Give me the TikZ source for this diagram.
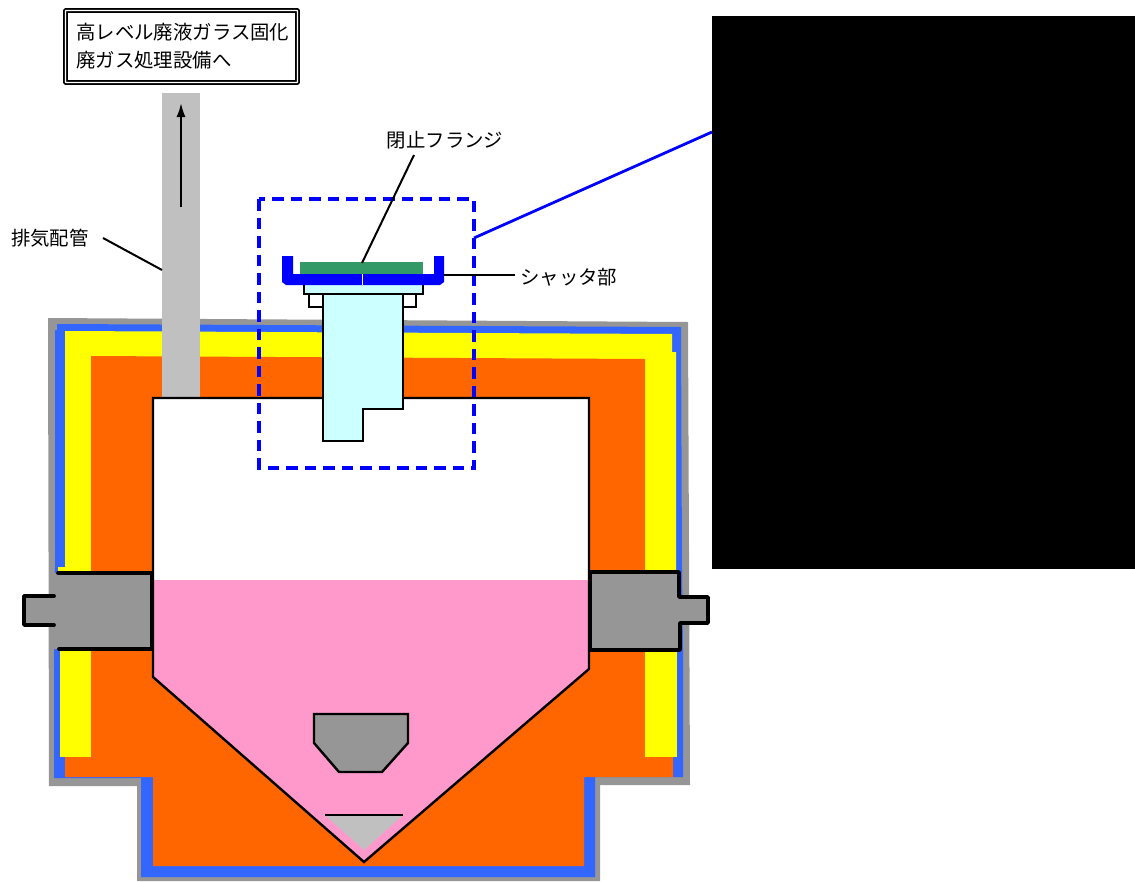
\documentclass[tikz,border=0pt]{standalone}
\usepackage{fontspec}
\setmainfont{Noto Sans CJK JP}
\usetikzlibrary{arrows.meta}
\definecolor{wallgray}{HTML}{969696}
\definecolor{wallblue}{HTML}{3366FF}
\definecolor{wallyellow}{HTML}{FFFF00}
\definecolor{wallorange}{HTML}{FF6600}
\definecolor{liquidpink}{HTML}{FF99CC}
\definecolor{pipegray}{HTML}{C0C0C0}
\definecolor{tubecyan}{HTML}{CCFFFF}
\definecolor{flangegreen}{HTML}{339966}
\definecolor{shutterblue}{HTML}{0000FF}
\tikzset{
  x=1pt,y=-1pt,
  lab/.style={inner sep=0pt,font=\fontsize{19.4}{28}\selectfont,text=black},
  solidpart/.style={draw=black,line width=2.4pt,line join=miter},
  heavy/.style={draw=black,line width=3.8pt,line join=round,line cap=round},
  leader/.style={draw=black,line width=2pt},
  bluecall/.style={draw=shutterblue,line width=2.8pt},
}
\begin{document}
\begin{tikzpicture}
\useasboundingbox (0,0) rectangle (1135,881);
% wall layers
\fill[wallgray] (48,318) -- (688,322) -- (690,785) -- (600,785) -- (600,881) -- (137,881) -- (137,786) -- (49,786) -- cycle;
\fill[wallblue] (57,324) -- (681,327) -- (682,570) -- (683,650) -- (683,777) -- (595,777) -- (595,877) -- (141,877) -- (141,778) -- (54,778) -- (54,651) -- (55,567) -- (55,330) -- (57,330) -- cycle;
\fill[wallyellow] (65,331) -- (672,334) -- (672,352) -- (676,352) -- (676,571) -- (65,571) -- cycle;
\fill[wallyellow] (58,567) rectangle (65,571);
\fill[wallorange] (91,356) -- (645,359) -- (645,571) -- (91,571) -- cycle;
\fill[wallorange] (65,651) -- (673,651) -- (673,777) -- (584,777) -- (584,866) -- (153,866) -- (153,777) -- (65,777) -- cycle;
\fill[wallyellow] (60,651) rectangle (91,757);
\fill[wallyellow] (645,651) rectangle (677,757);
% pipe
\fill[pipegray] (162,93) rectangle (200,399);
% vessel
\fill[white] (153,398) rectangle (589,581);
\fill[liquidpink] (153,580) -- (589,580) -- (589,669) -- (364,862) -- (153,677) -- cycle;
\draw[solidpart] (153,677) -- (153,398) -- (589,398) -- (589,669) -- (364,862) -- cycle;
% side ports
\fill[wallgray] (49,573) -- (152,573) -- (152,649) -- (49,649) -- (49,625) -- (24,625) -- (24,596) -- (49,596) -- cycle;
\draw[heavy] (58,573) -- (152,573) -- (152,649) -- (59,649);
\draw[heavy] (54,596) -- (24,596) -- (24,625) -- (54,625);
\fill[wallgray] (590,572) -- (679,572) -- (679,597) -- (708,597) -- (708,623) -- (679,623) -- (679,650) -- (590,650) -- cycle;
\draw[heavy] (590,572) -- (679,572) -- (679,597) -- (708,597) -- (708,623) -- (680,623) -- (680,650) -- (590,650) -- cycle;
% bottom internals
\draw[solidpart,fill=wallgray] (314,714) -- (408,714) -- (408,743) -- (382,772) -- (339,772) -- (314,743) -- cycle;
\fill[pipegray] (325,815) -- (403,815) -- (364,850) -- cycle;
\draw[solidpart] (325,815) -- (403,815);
% tube and flange
\draw[solidpart,fill=white] (309,294) rectangle (323,307);
\draw[solidpart,fill=white] (403,294) rectangle (416,307);
\draw[solidpart,fill=tubecyan] (304,284) -- (304,294) -- (423,294) -- (423,284);
\draw[solidpart,fill=tubecyan] (323,294) -- (403,294) -- (403,409) -- (363,409) -- (363,441) -- (323,441) -- cycle;
% closure flange and shutter
\fill[flangegreen] (300,262) rectangle (423,274);
\fill[shutterblue] (282,256) -- (293,256) -- (293,274) -- (434,274) -- (434,256) -- (444,256) -- (444,282) -- (440,285) -- (286,285) -- (282,282) -- cycle;
\draw[white,line width=0.5pt] (362.7,274) -- (362.7,285);
% detail frame
\draw[draw=shutterblue,line width=3.2pt,dash pattern=on 11.5pt off 7pt] (259,199) rectangle (474,468);
\node[fill=black,minimum width=423pt,minimum height=553pt,inner sep=0pt] (detail) at (923.5,292.5) {};
\coordinate (framepoint) at (474,238);
\coordinate (detailpoint) at (712,132);
\draw[bluecall] (framepoint) -- (detailpoint);
% destination box
\node[draw=black,double,double distance=1.4pt,line width=1.7pt,minimum width=232pt,minimum height=72pt,inner sep=0pt,rounded corners=0.5pt] (dest) at (181.5,46.5) {};
\node[lab,align=left,anchor=west] (desttext) at (76,46) {高レベル廃液ガラス固化\\廃ガス処理設備へ};
% labels
\node[lab] (flangelabel) at (445,140) {閉止フランジ};
\node[lab,anchor=west] (shutterlabel) at (520,277) {シャッタ部};
\node[lab,anchor=west] (pipelabel) at (11,238) {排気配管};
% leaders
\coordinate (flangeend) at (362,263);
\coordinate (flangestart) at (414,155);
\coordinate (shutterend) at (444,275);
\coordinate (shutterstart) at (515,275);
\coordinate (pipestart) at (103,238);
\coordinate (pipeend) at (162,270);
\coordinate (flowstart) at (181,207);
\coordinate (flowend) at (181,103);
\draw[leader] (flangestart) -- (flangeend);
\draw[leader] (shutterstart) -- (shutterend);
\draw[leader] (pipestart) -- (pipeend);
\draw[leader,-{Latex[length=14pt,width=9pt]}] (flowstart) -- (flowend);
\end{tikzpicture}
\end{document}
